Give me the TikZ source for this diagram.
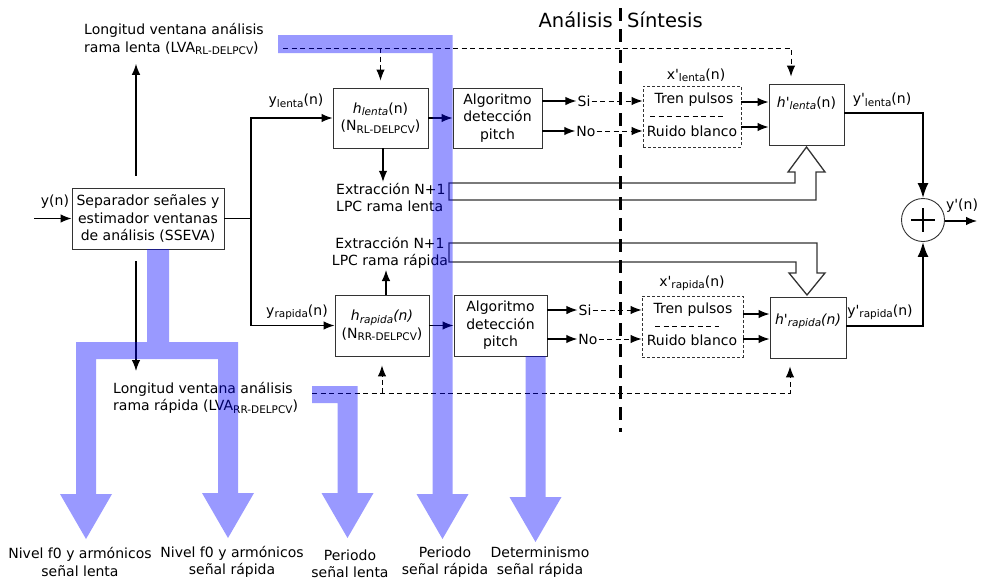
\documentclass[tikz,border=0pt]{standalone}
\usepackage{fontspec}
\setmainfont{DejaVu Sans}
\usetikzlibrary{arrows.meta}

\providecommand{\prima}{\textquotesingle}
\providecommand{\Baja}[1]{\raisebox{-0.3ex}{\fontsize{10.5}{11}\selectfont #1}}
\providecommand{\Punta}[2]{
-- ({#1+10},#2) -- ({#1+26},#2) -- (#1,{#2+45}) -- ({#1-26},#2) -- ({#1-10},#2)
}

\tikzset{
  bloque/.style={draw=black!80, line width=0.9pt, align=center, inner sep=0pt},
  bloquep/.style={bloque, dash pattern=on 3pt off 2pt},
  rotulo/.style={align=center, inner sep=1pt},
  flecha/.style={line width=1.2pt, -{Latex[length=11pt,width=8.5pt]}},
  flechad/.style={flecha, line width=1pt, dash pattern=on 5pt off 3.5pt},
  salida/.style={line width=2pt, -{Latex[length=15pt,width=11pt]}},
  hueca/.style={draw=black!80, line width=1.3pt},
  banda/.style={fill=blue, fill opacity=0.4},
  divisoria/.style={line width=3pt, dash pattern=on 13pt off 8pt},
}

\begin{document}
\begin{tikzpicture}[x=1pt, y=-1pt, font=\fontsize{14}{17.5}\selectfont]
\useasboundingbox (0,0) rectangle (981,581);

\node[rotulo, align=left, anchor=west] (lval) at (83,39) {Longitud ventana análisis\\rama lenta (LVA\Baja{RL-DELPCV})};
\node[rotulo, align=left, anchor=west] (lvar) at (112,398) {Longitud ventana análisis\\rama rápida (LVA\Baja{RR-DELPCV})};

\node[bloque, minimum width=152, minimum height=61] (sseva) at (148,218.5) {Separador señales y\\estimador ventanas\\de análisis (SSEVA)};
\node[rotulo] (yn) at (55,202) {y(n)};
\coordinate (ent) at (34,218.5);
\draw[flecha] (ent) -- (sseva.west);
\draw[flecha, shorten <=12pt, shorten >=8pt] (sseva.north -| 136,0) -- (lval.south -| 136,0);
\draw[flecha, shorten <=12pt, shorten >=10pt] (sseva.south -| 136,0) -- (lvar.north -| 136,0);

\node[bloque, minimum width=95, minimum height=60] (hl) at (380.5,118) {\textit{h}\Baja{\textit{lenta}}(n)\\(N\Baja{RL-DELPCV})};
\node[bloque, minimum width=89, minimum height=60] (algl) at (497.5,118) {Algoritmo\\detección\\pitch};
\node[bloque, minimum width=94, minimum height=61] (hr) at (382,325.5) {\textit{h\Baja{\textit{rapida}}(n)}\\(N\Baja{RR-DELPCV})};
\node[bloque, minimum width=93, minimum height=61] (algr) at (500.5,325.5) {Algoritmo\\detección\\pitch};

\coordinate (rama) at (251,218.5);
\draw[line width=1.2pt] (sseva.east) -- (rama);
\draw[flecha] (rama) |- (hl.west);
\draw[flecha] (rama) |- (hr.west);
\node[rotulo] (ylab) at (296,101) {y\Baja{lenta}(n)};
\node[rotulo] (yrab) at (297,312) {y\Baja{rapida}(n)};
\draw[flecha] (hl) -- (algl);
\draw[flecha] (hr) -- (algr);

\node[rotulo, align=left, anchor=west] (extl) at (335,197.5) {Extracción N+1\\LPC rama lenta};
\node[rotulo] (extr) at (390,253) {Extracción N+1\\LPC rama rápida};
\draw[flecha] (hl.south -| 383,0) -- (extl.north -| 383,0);
\draw[flecha] (hr.north -| 386,0) -- (extr.south -| 386,0);

\node[rotulo] (sil) at (584,101) {Si};
\node[rotulo] (nol) at (586,131) {No};
\node[rotulo] (sir) at (585,310) {Si};
\node[rotulo] (nor) at (588,339) {No};
\draw[flecha] (algl.east |- sil) -- (sil);
\draw[flecha] (algl.east |- nol) -- (nol);
\draw[flecha] (algr.east |- sir) -- (sir);
\draw[flecha] (algr.east |- nor) -- (nor);

\node[bloquep, minimum width=98, minimum height=61] (xl) at (692,116.5) {};
\node[rotulo] (trl) at (694,100) {Tren pulsos};
\node[rotulo] (rbl) at (692,131) {Ruido blanco};
\draw[line width=1pt, dash pattern=on 5pt off 3.5pt] (650,116) -- (725,116);
\node[rotulo] (xlab) at (696,75) {x\prima\Baja{lenta}(n)};
\node[bloquep, minimum width=101, minimum height=61] (xr) at (692.5,326.5) {};
\node[rotulo] (trr) at (693,310) {Tren pulsos};
\node[rotulo] (rbr) at (692,340) {Ruido blanco};
\draw[line width=1pt, dash pattern=on 5pt off 3.5pt] (655,326) -- (719,326);
\node[rotulo] (xrab) at (692,283) {x\prima\Baja{rapida}(n)};

\draw[flechad] (sil) -- (xl.west |- sil);
\draw[flechad] (nol) -- (xl.west |- nol);
\draw[flechad] (sir) -- (xr.west |- sir);
\draw[flechad] (nor) -- (xr.west |- nor);

\node[bloque, minimum width=75, minimum height=61] (hpl) at (806.5,114.5) {};
\node[rotulo] (hpllab) at (806.5,103) {\textit{h\prima\Baja{\textit{lenta}}}(n)};
\node[bloque, minimum width=76, minimum height=61] (hpr) at (808,327.5) {};
\node[rotulo] (hprlab) at (808,321) {\textit{h\prima\Baja{\textit{rapida}}(n)}};
\draw[flecha] (xl.east |- 0,102) -- (hpl.west |- 0,102);
\draw[flecha] (xl.east |- 0,127) -- (hpl.west |- 0,127);
\draw[flecha] (xr.east |- 0,314) -- (hpr.west |- 0,314);
\draw[flecha] (xr.east |- 0,339) -- (hpr.west |- 0,339);

\coordinate (dl0) at (283,48);
\coordinate (dl1) at (791,48);
\draw[flechad, shorten >=7pt] (dl0) -- (dl1) -- (dl1 |- hpl.north);
\draw[flechad, shorten >=7pt] (hl.north |- dl0) -- (hl.north);
\coordinate (dr0) at (312,393);
\coordinate (dr1) at (790,393);
\draw[flechad, shorten >=8pt] (dr0) -- (dr1) -- (dr1 |- hpr.south);
\draw[flechad, shorten >=9pt] (hr.south |- dr0) -- (hr.south);

\draw[hueca] (449,183) -- (795,183) -- (795,172) -- (788,172) -- (806.5,147) -- (825,172) -- (816,172) -- (816,200) -- (449,200) -- cycle;
\draw[hueca] (449,243) -- (817,243) -- (817,273) -- (825,273) -- (807,295) -- (789,273) -- (796,273) -- (796,262) -- (449,262) -- cycle;

\node[draw=black!80, line width=0.9pt, circle, minimum size=43, inner sep=0pt] (sum) at (923,220) {};
\draw[line width=1.4pt] (sum.center) +(-12,0) -- +(12,0) +(0,-12) -- +(0,12);
\draw[salida] (hpl.east |- 0,113) -| (sum.north);
\draw[salida] (hpr.east |- 0,326) -| (sum.south);
\node[rotulo] (ypl) at (882,100) {y\prima\Baja{lenta}(n)};
\node[rotulo] (ypr) at (880,312) {y\prima\Baja{rapida}(n)};
\coordinate (ysal) at (977,221);
\draw[flecha] (sum.east |- ysal) -- (ysal);
\node[rotulo] (ysallab) at (962,206) {y\prima(n)};

\draw[divisoria] (620,8) -- (620,432);
\node[font=\fontsize{19.5}{22}\selectfont, anchor=east, inner sep=0pt] (an) at (613,20) {Análisis};
\node[font=\fontsize{19.5}{22}\selectfont, anchor=west, inner sep=0pt] (sin) at (627,20) {Síntesis};

\node[rotulo] (o1) at (80,562) {Nivel f0 y armónicos\\señal lenta};
\node[rotulo] (o2) at (232,562) {Nivel f0 y armónicos\\señal rápida};
\node[rotulo] (o3) at (350,564) {Periodo\\señal lenta};
\node[rotulo] (o4) at (445,562) {Periodo\\señal rápida};
\node[rotulo] (o5) at (540,562) {Determinismo\\señal rápida};

\fill[banda] (278,35) -- (452.5,35) \Punta{442.5}{494} -- (432.5,53) -- (278,53) -- cycle;
\fill[banda] (147,249) -- (169,249) -- (169,342) -- (238,342) \Punta{228}{493} -- (218,359) -- (96,359) \Punta{86}{494} -- (76,342) -- (147,342) -- cycle;
\fill[banda] (312,386) -- (357.5,386) \Punta{347.5}{493} -- (337.5,403) -- (312,403) -- cycle;
\fill[banda] (525.5,356) -- (545.5,356) \Punta{535.5}{497} -- cycle;
\end{tikzpicture}
\end{document}
